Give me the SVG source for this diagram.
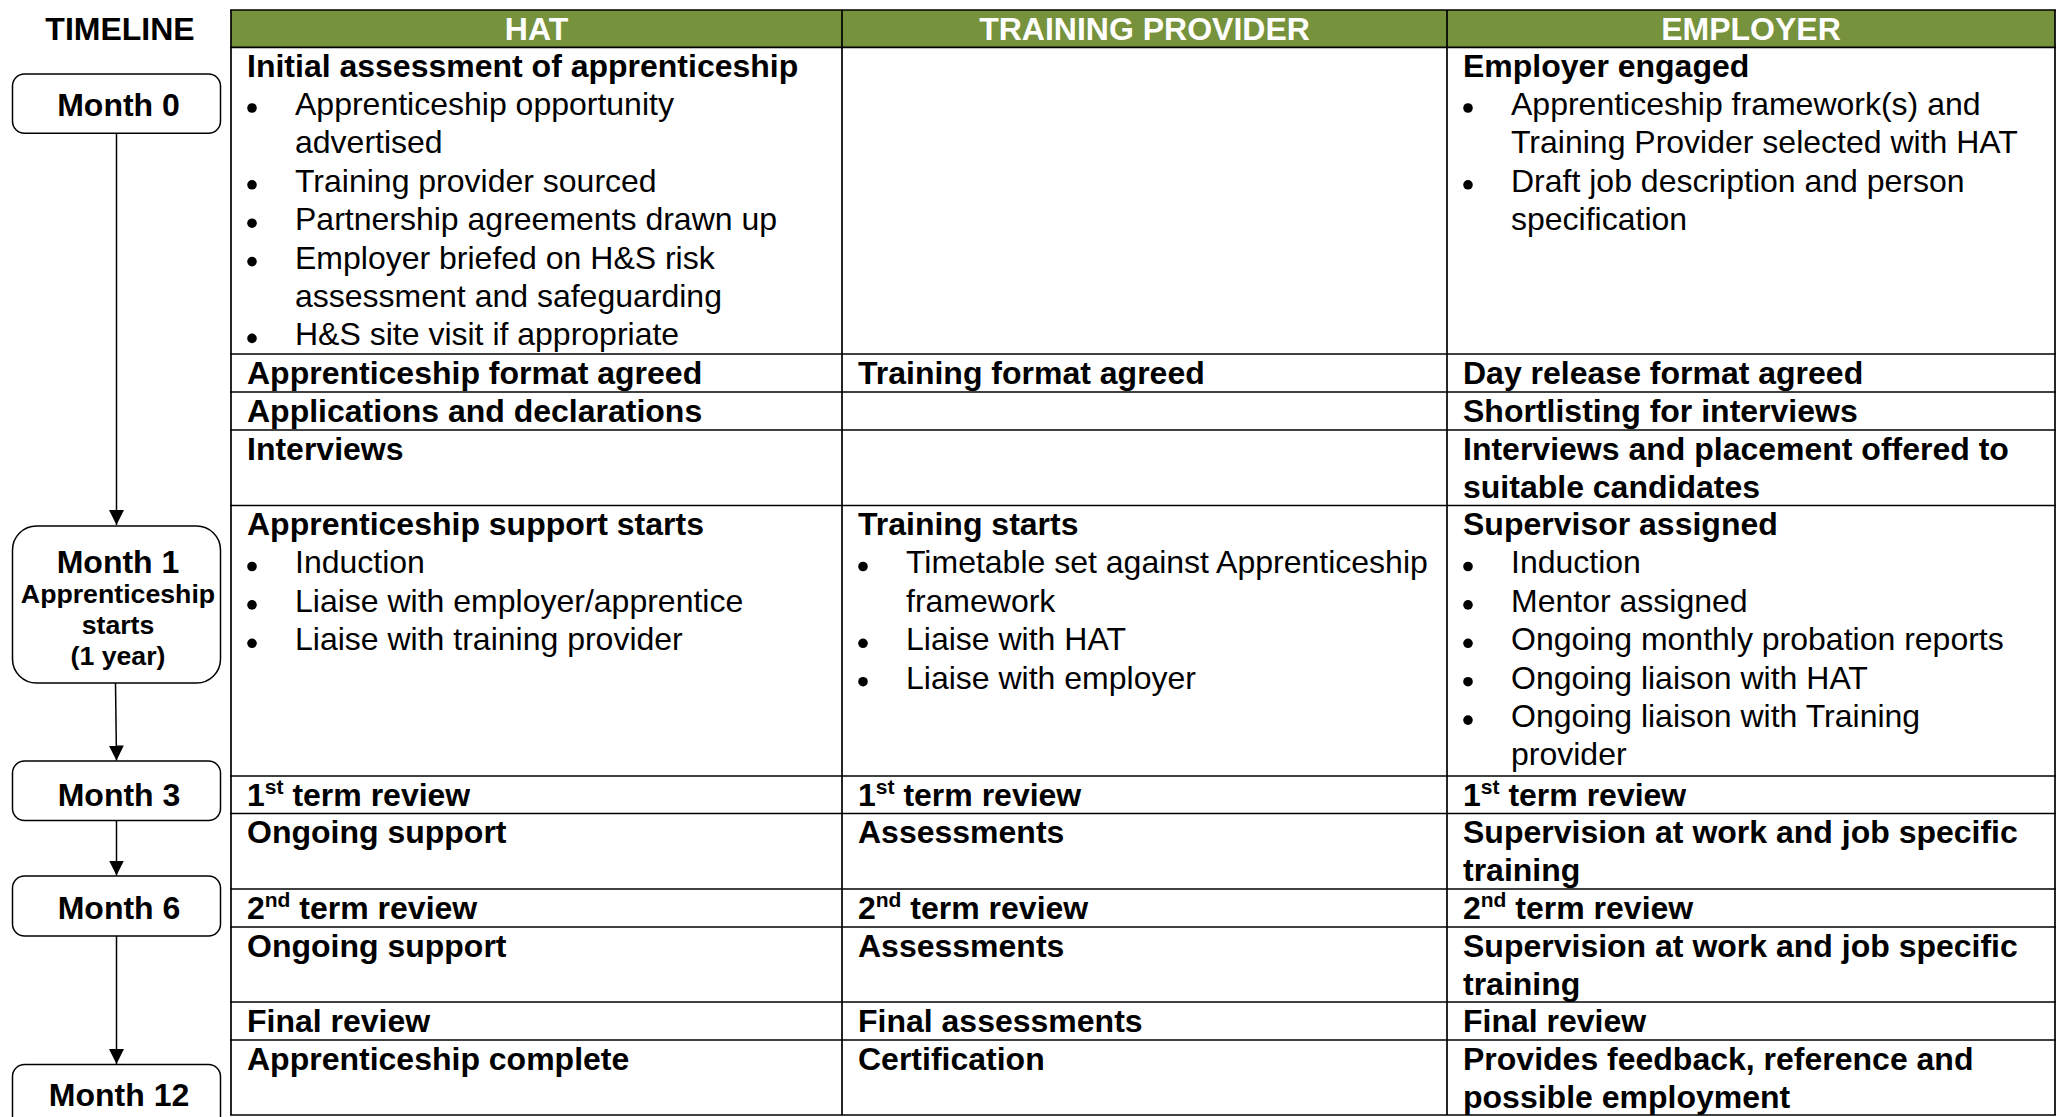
<svg xmlns="http://www.w3.org/2000/svg" width="2063" height="1117" viewBox="0 0 2063 1117">
<style>
.t{font-family:"Liberation Sans",Arial,Helvetica,sans-serif;font-size:32px;fill:#000}
.b{font-weight:bold}
.hd{font-weight:bold;fill:#fff;text-anchor:middle}
.mc{font-weight:bold;text-anchor:middle}
.sm{font-size:26.7px}
.sup{font-size:21px}
.grid line{stroke:#000;stroke-width:1.7}
.box{fill:#fff;stroke:#000;stroke-width:1.5}
.conn line{stroke:#000;stroke-width:1.5}
.dot{fill:#000}
</style>
<defs>
<marker id="ah" markerUnits="userSpaceOnUse" markerWidth="16" markerHeight="16" refX="15" refY="7.5" orient="auto">
<path d="M0,0 L15,7.5 L0,15 z" fill="#000"/>
</marker>
</defs>
<rect width="2063" height="1117" fill="#fff"/>

<g id="table">
<rect x="231" y="10" width="1824" height="37.3" fill="#76923C"/>
<g class="grid">
<line x1="230" y1="10" x2="2056" y2="10"/>
<line x1="230" y1="47.3" x2="2056" y2="47.3"/>
<line x1="230" y1="354" x2="2056" y2="354"/>
<line x1="230" y1="392" x2="2056" y2="392"/>
<line x1="230" y1="430" x2="2056" y2="430"/>
<line x1="230" y1="505.5" x2="2056" y2="505.5"/>
<line x1="230" y1="776" x2="2056" y2="776"/>
<line x1="230" y1="813.5" x2="2056" y2="813.5"/>
<line x1="230" y1="889" x2="2056" y2="889"/>
<line x1="230" y1="927" x2="2056" y2="927"/>
<line x1="230" y1="1002" x2="2056" y2="1002"/>
<line x1="230" y1="1040" x2="2056" y2="1040"/>
<line x1="230" y1="1115" x2="2056" y2="1115"/>
<line x1="231" y1="10" x2="231" y2="1115"/>
<line x1="842" y1="10" x2="842" y2="1115"/>
<line x1="1447" y1="10" x2="1447" y2="1115"/>
<line x1="2055" y1="10" x2="2055" y2="1115"/>
</g>
<text class="t hd" x="536.5" y="40">HAT</text>
<text class="t hd" x="1144.5" y="40">TRAINING PROVIDER</text>
<text class="t hd" x="1751" y="40">EMPLOYER</text>
</g>

<g id="timeline-title"><text class="t b" x="120" y="39.5" text-anchor="middle">TIMELINE</text></g>

<g id="month0"><rect class="box" x="12.5" y="74" width="208" height="59.3" rx="12"/><text class="t mc" x="118.5" y="116">Month 0</text></g>
<g id="month1"><rect class="box" x="12.5" y="526" width="208" height="157" rx="24"/>
<text class="t mc" x="118" y="572.7">Month 1</text>
<text class="t mc sm" x="118" y="603">Apprenticeship</text>
<text class="t mc sm" x="118" y="634">starts</text>
<text class="t mc sm" x="118" y="665">(1 year)</text></g>
<g id="month3"><rect class="box" x="12.5" y="761" width="208" height="59.5" rx="12"/><text class="t mc" x="119" y="806">Month 3</text></g>
<g id="month6"><rect class="box" x="12.5" y="876" width="208" height="60" rx="12"/><text class="t mc" x="119" y="918.7">Month 6</text></g>
<g id="month12"><rect class="box" x="12.5" y="1064.5" width="208" height="75" rx="12"/><text class="t mc" x="119" y="1106">Month 12</text></g>

<g id="connectors" class="conn">
<line x1="116.5" y1="133.3" x2="116.5" y2="525" marker-end="url(#ah)"/>
<line x1="115.5" y1="683" x2="116.5" y2="760.5" marker-end="url(#ah)"/>
<line x1="116.5" y1="820.5" x2="116.5" y2="875.5" marker-end="url(#ah)"/>
<line x1="116.5" y1="936" x2="116.5" y2="1064" marker-end="url(#ah)"/>
</g>

<g id="hat-col">
<text class="t b" x="247" y="76.5">Initial assessment of apprenticeship</text>
<circle class="dot" cx="252" cy="108" r="4.8"/>
<text class="t" x="295" y="114.9">Apprenticeship opportunity</text>
<text class="t" x="295" y="153.3">advertised</text>
<circle class="dot" cx="252" cy="184.8" r="4.8"/>
<text class="t" x="295" y="191.7">Training provider sourced</text>
<circle class="dot" cx="252" cy="223.2" r="4.8"/>
<text class="t" x="295" y="230.1">Partnership agreements drawn up</text>
<circle class="dot" cx="252" cy="261.6" r="4.8"/>
<text class="t" x="295" y="268.5">Employer briefed on H&amp;S risk</text>
<text class="t" x="295" y="306.9">assessment and safeguarding</text>
<circle class="dot" cx="252" cy="338.4" r="4.8"/>
<text class="t" x="295" y="345.3">H&amp;S site visit if appropriate</text>
<text class="t b" x="247" y="383.5">Apprenticeship format agreed</text>
<text class="t b" x="247" y="421.5">Applications and declarations</text>
<text class="t b" x="247" y="459.5">Interviews</text>
<text class="t b" x="247" y="535">Apprenticeship support starts</text>
<circle class="dot" cx="252" cy="566.5" r="4.8"/>
<text class="t" x="295" y="573.4">Induction</text>
<circle class="dot" cx="252" cy="604.9" r="4.8"/>
<text class="t" x="295" y="611.8">Liaise with employer/apprentice</text>
<circle class="dot" cx="252" cy="643.3" r="4.8"/>
<text class="t" x="295" y="650.2">Liaise with training provider</text>
<text class="t b" x="247" y="805.5">1<tspan class="sup" dy="-12">st</tspan><tspan dy="12"> term review</tspan></text>
<text class="t b" x="247" y="843">Ongoing support</text>
<text class="t b" x="247" y="918.5">2<tspan class="sup" dy="-12">nd</tspan><tspan dy="12"> term review</tspan></text>
<text class="t b" x="247" y="956.5">Ongoing support</text>
<text class="t b" x="247" y="1031.5">Final review</text>
<text class="t b" x="247" y="1069.5">Apprenticeship complete</text>
</g>

<g id="provider-col">
<text class="t b" x="858" y="383.5">Training format agreed</text>
<text class="t b" x="858" y="535">Training starts</text>
<circle class="dot" cx="863" cy="566.5" r="4.8"/>
<text class="t" x="906" y="573.4">Timetable set against Apprenticeship</text>
<text class="t" x="906" y="611.8">framework</text>
<circle class="dot" cx="863" cy="643.3" r="4.8"/>
<text class="t" x="906" y="650.2">Liaise with HAT</text>
<circle class="dot" cx="863" cy="681.7" r="4.8"/>
<text class="t" x="906" y="688.6">Liaise with employer</text>
<text class="t b" x="858" y="805.5">1<tspan class="sup" dy="-12">st</tspan><tspan dy="12"> term review</tspan></text>
<text class="t b" x="858" y="843">Assessments</text>
<text class="t b" x="858" y="918.5">2<tspan class="sup" dy="-12">nd</tspan><tspan dy="12"> term review</tspan></text>
<text class="t b" x="858" y="956.5">Assessments</text>
<text class="t b" x="858" y="1031.5">Final assessments</text>
<text class="t b" x="858" y="1069.5">Certification</text>
</g>

<g id="employer-col">
<text class="t b" x="1463" y="76.5">Employer engaged</text>
<circle class="dot" cx="1468" cy="108" r="4.8"/>
<text class="t" x="1511" y="114.9">Apprenticeship framework(s) and</text>
<text class="t" x="1511" y="153.3">Training Provider selected with HAT</text>
<circle class="dot" cx="1468" cy="184.8" r="4.8"/>
<text class="t" x="1511" y="191.7">Draft job description and person</text>
<text class="t" x="1511" y="230.1">specification</text>
<text class="t b" x="1463" y="383.5">Day release format agreed</text>
<text class="t b" x="1463" y="421.5">Shortlisting for interviews</text>
<text class="t b" x="1463" y="459.5">Interviews and placement offered to</text>
<text class="t b" x="1463" y="497.5">suitable candidates</text>
<text class="t b" x="1463" y="535">Supervisor assigned</text>
<circle class="dot" cx="1468" cy="566.5" r="4.8"/>
<text class="t" x="1511" y="573.4">Induction</text>
<circle class="dot" cx="1468" cy="604.9" r="4.8"/>
<text class="t" x="1511" y="611.8">Mentor assigned</text>
<circle class="dot" cx="1468" cy="643.3" r="4.8"/>
<text class="t" x="1511" y="650.2">Ongoing monthly probation reports</text>
<circle class="dot" cx="1468" cy="681.7" r="4.8"/>
<text class="t" x="1511" y="688.6">Ongoing liaison with HAT</text>
<circle class="dot" cx="1468" cy="720.1" r="4.8"/>
<text class="t" x="1511" y="727">Ongoing liaison with Training</text>
<text class="t" x="1511" y="765.4">provider</text>
<text class="t b" x="1463" y="805.5">1<tspan class="sup" dy="-12">st</tspan><tspan dy="12"> term review</tspan></text>
<text class="t b" x="1463" y="843">Supervision at work and job specific</text>
<text class="t b" x="1463" y="881">training</text>
<text class="t b" x="1463" y="918.5">2<tspan class="sup" dy="-12">nd</tspan><tspan dy="12"> term review</tspan></text>
<text class="t b" x="1463" y="956.5">Supervision at work and job specific</text>
<text class="t b" x="1463" y="994.5">training</text>
<text class="t b" x="1463" y="1031.5">Final review</text>
<text class="t b" x="1463" y="1069.5">Provides feedback, reference and</text>
<text class="t b" x="1463" y="1107.5">possible employment</text>
</g>
</svg>
